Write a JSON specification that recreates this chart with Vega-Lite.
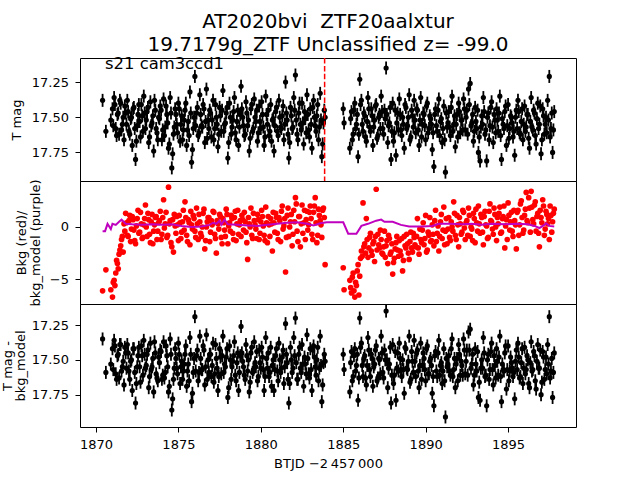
{
  "$schema": "https://vega.github.io/schema/vega-lite/v6.json",
  "autosize": {"type": "none"},
  "padding": {"left": 80, "top": 58, "right": 64, "bottom": 422},
  "bounds": "flush",
  "config": {
    "view": {"stroke": "black", "strokeWidth": 1},
    "font": "DejaVu Sans",
    "axis": {"labelFont": "DejaVu Sans", "labelFontSize": 13, "labelColor": "black", "tickColor": "black", "tickSize": 5, "tickWidth": 1, "domain": false, "grid": false, "titleFont": "DejaVu Sans", "titleFontSize": 13, "titleFontWeight": "normal", "titleColor": "black", "labelPadding": 6.5}
  },
  "title": {"text": ["AT2020bvi\u00a0 ZTF20aalxtur", "19.7179g_ZTF Unclassified z= -99.0"], "font": "DejaVu Sans", "fontSize": 20, "fontWeight": "normal", "color": "black", "lineHeight": 23, "anchor": "middle", "frame": "group", "baseline": "bottom", "offset": -19},
  "datasets": {
    "lc": [
      {"t":1870.4,"m":17.38,"c":17.35,"b":-6.1},{"t":1870.6,"m":17.60,"c":17.59,"b":-4.1},
      {"t":1870.9,"m":17.52,"c":17.53,"b":-6.0},{"t":1871.0,"m":17.44,"c":17.42,"b":-6.7},{"t":1871.05,"m":17.56,"c":17.57,"b":-5.3},{"t":1871.1,"m":17.36,"c":17.36,"b":-5.1},{"t":1871.15,"m":17.41,"c":17.40,"b":-5.6},{"t":1871.2,"m":17.58,"c":17.60,"b":-4.4},{"t":1871.25,"m":17.63,"c":17.64,"b":-3.2},{"t":1871.3,"m":17.48,"c":17.47,"b":-3.5},{"t":1871.35,"m":17.47,"c":17.46,"b":-4.0},{"t":1871.4,"m":17.62,"c":17.63,"b":-2.6},{"t":1871.45,"m":17.38,"c":17.39,"b":-2.2},{"t":1871.5,"m":17.40,"c":17.39,"b":-1.8},{"t":1871.55,"m":17.59,"c":17.58,"b":-1.2},{"t":1871.6,"m":17.55,"c":17.55,"b":-0.9},{"t":1871.65,"m":17.50,"c":17.51,"b":-2.4},{"t":1871.7,"m":17.66,"c":17.68,"b":0.3},{"t":1871.75,"m":17.42,"c":17.41,"b":-0.4},{"t":1871.8,"m":17.47,"c":17.45,"b":1.3},
      {"t":1871.9,"m":17.38,"c":17.39,"b":-0.8},{"t":1872.0,"m":17.60,"c":17.58,"b":0.6},{"t":1872.1,"m":17.51,"c":17.51,"b":-1.4},{"t":1872.2,"m":17.70,"c":17.72,"b":1.0},{"t":1872.3,"m":17.43,"c":17.42,"b":-0.3},{"t":1872.4,"m":17.80,"c":17.81,"b":-1.6},{"t":1872.5,"m":17.56,"c":17.55,"b":0.8},{"t":1872.6,"m":17.41,"c":17.41,"b":-0.6},{"t":1872.7,"m":17.64,"c":17.66,"b":1.4},{"t":1872.8,"m":17.49,"c":17.47,"b":-1.1},
      {"t":1872.9,"m":17.35,"c":17.36,"b":0.2},{"t":1873.0,"m":17.58,"c":17.56,"b":2.1},{"t":1873.1,"m":17.46,"c":17.46,"b":-0.9},{"t":1873.2,"m":17.68,"c":17.70,"b":0.7},{"t":1873.3,"m":17.39,"c":17.38,"b":-1.5},{"t":1873.4,"m":17.54,"c":17.55,"b":1.2},{"t":1873.5,"m":17.74,"c":17.73,"b":-0.4},{"t":1873.6,"m":17.45,"c":17.45,"b":0.9},{"t":1873.7,"m":17.61,"c":17.63,"b":-1.2},{"t":1873.8,"m":17.50,"c":17.48,"b":0.4},
      {"t":1873.9,"m":17.42,"c":17.43,"b":1.5},{"t":1874.0,"m":17.66,"c":17.64,"b":-0.7},{"t":1874.1,"m":17.37,"c":17.37,"b":2.6},{"t":1874.2,"m":17.57,"c":17.59,"b":0.3},{"t":1874.3,"m":17.48,"c":17.47,"b":-1.0},{"t":1874.4,"m":17.72,"c":17.73,"b":3.8},{"t":1874.5,"m":17.36,"c":17.35,"b":0.6},{"t":1874.6,"m":17.86,"c":17.86,"b":-1.9},{"t":1874.7,"m":17.62,"c":17.64,"b":-2.4},{"t":1874.8,"m":17.44,"c":17.42,"b":0.1},
      {"t":1874.9,"m":17.55,"c":17.56,"b":1.0},{"t":1875.0,"m":17.40,"c":17.38,"b":-1.3},{"t":1875.1,"m":17.67,"c":17.67,"b":0.4},{"t":1875.2,"m":17.49,"c":17.51,"b":-0.5},{"t":1875.3,"m":17.59,"c":17.58,"b":1.6},{"t":1875.4,"m":17.45,"c":17.46,"b":2.4},{"t":1875.5,"m":17.70,"c":17.69,"b":-0.8},{"t":1875.6,"m":17.53,"c":17.53,"b":0.7},{"t":1875.7,"m":17.32,"c":17.34,"b":-1.7},{"t":1875.8,"m":17.82,"c":17.80,"b":0.2},
      {"t":1875.9,"m":17.58,"c":17.59,"b":1.1},{"t":1876.0,"m":17.21,"c":17.19,"b":-0.4},{"t":1876.1,"m":17.47,"c":17.47,"b":1.8},{"t":1876.2,"m":17.63,"c":17.65,"b":-1.2},{"t":1876.3,"m":17.34,"c":17.33,"b":0.5},{"t":1876.4,"m":17.56,"c":17.57,"b":-0.9},{"t":1876.5,"m":17.41,"c":17.40,"b":1.3},{"t":1876.6,"m":17.68,"c":17.68,"b":-2.1},{"t":1876.7,"m":17.30,"c":17.32,"b":0.0},{"t":1876.8,"m":17.52,"c":17.50,"b":0.9},
      {"t":1876.9,"m":17.45,"c":17.46,"b":-1.4},{"t":1877.0,"m":17.64,"c":17.62,"b":0.6},{"t":1877.1,"m":17.38,"c":17.38,"b":1.5},{"t":1877.2,"m":17.58,"c":17.60,"b":-0.7},{"t":1877.3,"m":17.50,"c":17.49,"b":-2.5},{"t":1877.4,"m":17.71,"c":17.72,"b":0.3},{"t":1877.5,"m":17.43,"c":17.42,"b":1.2},{"t":1877.6,"m":17.60,"c":17.60,"b":-1.0},{"t":1877.7,"m":17.31,"c":17.33,"b":0.8},{"t":1877.8,"m":17.55,"c":17.53,"b":-0.3},
      {"t":1877.9,"m":17.47,"c":17.48,"b":1.7},{"t":1878.0,"m":17.79,"c":17.77,"b":-1.6},{"t":1878.1,"m":17.40,"c":17.40,"b":0.4},{"t":1878.2,"m":17.62,"c":17.64,"b":1.1},{"t":1878.3,"m":17.52,"c":17.51,"b":-0.6},{"t":1878.4,"m":17.36,"c":17.37,"b":0.9},{"t":1878.5,"m":17.66,"c":17.65,"b":-1.3},{"t":1878.6,"m":17.45,"c":17.45,"b":1.6},{"t":1878.7,"m":17.57,"c":17.59,"b":0.2},{"t":1878.8,"m":17.28,"c":17.26,"b":-0.9},
      {"t":1878.9,"m":17.50,"c":17.51,"b":0.7},{"t":1879.0,"m":17.63,"c":17.61,"b":1.4},{"t":1879.1,"m":17.39,"c":17.39,"b":-0.5},{"t":1879.2,"m":17.56,"c":17.58,"b":-3.1},{"t":1879.3,"m":17.74,"c":17.73,"b":0.3},{"t":1879.4,"m":17.44,"c":17.45,"b":1.8},{"t":1879.5,"m":17.60,"c":17.59,"b":-1.1},{"t":1879.6,"m":17.37,"c":17.37,"b":0.6},{"t":1879.7,"m":17.53,"c":17.55,"b":-0.2},{"t":1879.8,"m":17.67,"c":17.65,"b":1.2},
      {"t":1879.9,"m":17.42,"c":17.43,"b":-1.2},{"t":1880.0,"m":17.58,"c":17.56,"b":0.5},{"t":1880.1,"m":17.48,"c":17.48,"b":1.0},{"t":1880.2,"m":17.70,"c":17.72,"b":-0.8},{"t":1880.3,"m":17.35,"c":17.34,"b":1.9},{"t":1880.4,"m":17.55,"c":17.56,"b":-1.5},{"t":1880.5,"m":17.63,"c":17.62,"b":0.2},{"t":1880.6,"m":17.41,"c":17.41,"b":0.8},{"t":1880.7,"m":17.52,"c":17.54,"b":-2.3},{"t":1880.8,"m":17.74,"c":17.72,"b":0.4},
      {"t":1880.9,"m":17.46,"c":17.47,"b":1.3},{"t":1881.0,"m":17.60,"c":17.58,"b":-0.6},{"t":1881.1,"m":17.38,"c":17.38,"b":0.9},{"t":1881.2,"m":17.57,"c":17.59,"b":-1.4},{"t":1881.3,"m":17.49,"c":17.48,"b":2.0},{"t":1881.4,"m":17.66,"c":17.67,"b":0.1},{"t":1881.5,"m":17.25,"c":17.24,"b":-4.3},{"t":1881.6,"m":17.52,"c":17.52,"b":1.1},{"t":1881.7,"m":17.79,"c":17.81,"b":-0.9},{"t":1881.8,"m":17.43,"c":17.41,"b":0.5},
      {"t":1881.9,"m":17.58,"c":17.59,"b":-1.8},{"t":1882.0,"m":17.36,"c":17.34,"b":1.6},{"t":1882.1,"m":17.20,"c":17.20,"b":2.8},{"t":1882.2,"m":17.62,"c":17.64,"b":-0.4},{"t":1882.3,"m":17.47,"c":17.46,"b":1.0},{"t":1882.4,"m":17.55,"c":17.56,"b":-1.9},{"t":1882.5,"m":17.40,"c":17.39,"b":2.1},{"t":1882.6,"m":17.69,"c":17.69,"b":0.4},{"t":1882.7,"m":17.51,"c":17.53,"b":-1.2},{"t":1882.8,"m":17.34,"c":17.32,"b":1.5},
      {"t":1882.9,"m":17.59,"c":17.60,"b":0.2},{"t":1883.0,"m":17.44,"c":17.42,"b":2.0},{"t":1883.1,"m":17.72,"c":17.72,"b":-0.7},{"t":1883.2,"m":17.38,"c":17.40,"b":1.4},{"t":1883.3,"m":17.56,"c":17.55,"b":2.8},{"t":1883.4,"m":17.49,"c":17.50,"b":-1.5},{"t":1883.5,"m":17.66,"c":17.65,"b":1.7},{"t":1883.6,"m":17.33,"c":17.33,"b":0.6},{"t":1883.7,"m":17.78,"c":17.80,"b":-1.0},{"t":1883.8,"m":17.54,"c":17.52,"b":1.8},
      {"t":1883.9,"m":17.50,"c":17.51,"b":-3.6},
      {"t":1885.0,"m":17.44,"c":17.46,"b":-3.9},{"t":1885.05,"m":17.54,"c":17.57,"b":-6.0},
      {"t":1885.4,"m":17.72,"c":17.73,"b":-5.1},{"t":1885.5,"m":17.46,"c":17.44,"b":-6.3},{"t":1885.6,"m":17.62,"c":17.62,"b":-4.4},{"t":1885.7,"m":17.40,"c":17.42,"b":-6.7},{"t":1885.8,"m":17.55,"c":17.54,"b":-5.6},{"t":1885.9,"m":17.78,"c":17.79,"b":-3.6},{"t":1886.0,"m":17.23,"c":17.20,"b":-4.7},{"t":1886.1,"m":17.38,"c":17.38,"b":-2.3},{"t":1886.2,"m":17.60,"c":17.62,"b":2.3},{"t":1886.3,"m":17.49,"c":17.47,"b":-1.6},
      {"t":1886.4,"m":17.67,"c":17.68,"b":0.8},{"t":1886.5,"m":17.36,"c":17.34,"b":-2.9},{"t":1886.6,"m":17.57,"c":17.57,"b":-1.0},{"t":1886.7,"m":17.44,"c":17.46,"b":-2.3},{"t":1886.8,"m":17.70,"c":17.69,"b":-1.6},{"t":1886.9,"m":17.52,"c":17.53,"b":-3.3},{"t":1887.0,"m":17.41,"c":17.40,"b":3.6},{"t":1887.1,"m":17.63,"c":17.63,"b":-0.7},{"t":1887.2,"m":17.48,"c":17.50,"b":-2.0},{"t":1887.3,"m":17.35,"c":17.33,"b":-1.2},
      {"t":1887.4,"m":17.58,"c":17.59,"b":-2.6},{"t":1887.5,"m":17.45,"c":17.43,"b":-0.4},{"t":1887.6,"m":17.15,"c":17.15,"b":-1.8},{"t":1887.7,"m":17.68,"c":17.70,"b":-3.5},{"t":1887.8,"m":17.54,"c":17.53,"b":-1.1},{"t":1887.9,"m":17.80,"c":17.81,"b":-2.4},{"t":1888.0,"m":17.40,"c":17.39,"b":-4.5},{"t":1888.1,"m":17.61,"c":17.61,"b":-3.0},{"t":1888.2,"m":17.77,"c":17.79,"b":-1.5},{"t":1888.3,"m":17.47,"c":17.45,"b":-2.2},
      {"t":1888.4,"m":17.37,"c":17.38,"b":-1.3},{"t":1888.5,"m":17.59,"c":17.57,"b":-2.7},{"t":1888.6,"m":17.50,"c":17.50,"b":-4.2},{"t":1888.7,"m":17.72,"c":17.74,"b":-0.9},{"t":1888.8,"m":17.43,"c":17.42,"b":-2.0},{"t":1888.9,"m":17.56,"c":17.57,"b":-1.6},{"t":1889.0,"m":17.34,"c":17.33,"b":-3.1},{"t":1889.1,"m":17.64,"c":17.64,"b":-0.5},{"t":1889.2,"m":17.49,"c":17.51,"b":-2.4},{"t":1889.3,"m":17.38,"c":17.36,"b":-1.0},
      {"t":1889.4,"m":17.61,"c":17.62,"b":-1.9},{"t":1889.5,"m":17.45,"c":17.43,"b":0.8},{"t":1889.6,"m":17.70,"c":17.70,"b":-2.6},{"t":1889.7,"m":17.36,"c":17.38,"b":-1.2},{"t":1889.8,"m":17.55,"c":17.54,"b":-0.3},{"t":1889.9,"m":17.48,"c":17.49,"b":-1.7},{"t":1890.0,"m":17.66,"c":17.65,"b":1.1},{"t":1890.1,"m":17.40,"c":17.40,"b":-2.2},{"t":1890.2,"m":17.58,"c":17.60,"b":-0.8},{"t":1890.3,"m":17.51,"c":17.49,"b":-1.4},
      {"t":1890.4,"m":17.73,"c":17.74,"b":0.2},{"t":1890.5,"m":17.85,"c":17.83,"b":-1.8},{"t":1890.6,"m":17.44,"c":17.44,"b":1.6},{"t":1890.7,"m":17.60,"c":17.62,"b":-0.6},{"t":1890.8,"m":17.37,"c":17.36,"b":-2.3},{"t":1890.9,"m":17.53,"c":17.54,"b":0.5},{"t":1891.0,"m":17.68,"c":17.67,"b":-1.1},{"t":1891.1,"m":17.42,"c":17.42,"b":1.9},{"t":1891.2,"m":17.89,"c":17.91,"b":-0.4},{"t":1891.3,"m":17.57,"c":17.55,"b":-1.6},
      {"t":1891.4,"m":17.46,"c":17.47,"b":0.9},{"t":1891.5,"m":17.63,"c":17.61,"b":-1.3},{"t":1891.6,"m":17.35,"c":17.35,"b":0.0},{"t":1891.7,"m":17.55,"c":17.57,"b":2.4},{"t":1891.8,"m":17.71,"c":17.70,"b":-0.8},{"t":1891.9,"m":17.48,"c":17.49,"b":1.1},{"t":1892.0,"m":17.40,"c":17.39,"b":-1.9},{"t":1892.1,"m":17.61,"c":17.61,"b":0.3},{"t":1892.2,"m":17.52,"c":17.54,"b":-0.5},{"t":1892.3,"m":17.37,"c":17.35,"b":1.4},
      {"t":1892.4,"m":17.59,"c":17.60,"b":-1.2},{"t":1892.5,"m":17.45,"c":17.43,"b":0.6},{"t":1892.6,"m":17.30,"c":17.30,"b":1.8},{"t":1892.7,"m":17.26,"c":17.28,"b":-0.9},{"t":1892.8,"m":17.54,"c":17.53,"b":-0.2},{"t":1892.9,"m":17.67,"c":17.68,"b":1.3},{"t":1893.0,"m":17.43,"c":17.42,"b":-1.5},{"t":1893.1,"m":17.58,"c":17.58,"b":0.4},{"t":1893.2,"m":17.75,"c":17.77,"b":2.0},{"t":1893.3,"m":17.81,"c":17.79,"b":-0.6},
      {"t":1893.4,"m":17.49,"c":17.50,"b":0.9},{"t":1893.5,"m":17.36,"c":17.34,"b":-1.7},{"t":1893.6,"m":17.62,"c":17.62,"b":1.5},{"t":1893.7,"m":17.81,"c":17.83,"b":0.1},{"t":1893.8,"m":17.47,"c":17.46,"b":-1.0},{"t":1893.9,"m":17.56,"c":17.57,"b":2.2},{"t":1894.0,"m":17.39,"c":17.38,"b":0.5},{"t":1894.1,"m":17.68,"c":17.68,"b":-0.7},{"t":1894.2,"m":17.52,"c":17.54,"b":1.2},{"t":1894.3,"m":17.44,"c":17.42,"b":-1.3},
      {"t":1894.4,"m":17.60,"c":17.61,"b":0.3},{"t":1894.5,"m":17.35,"c":17.33,"b":1.9},{"t":1894.6,"m":17.80,"c":17.80,"b":-0.5},{"t":1894.7,"m":17.55,"c":17.57,"b":1.0},{"t":1894.8,"m":17.46,"c":17.45,"b":-2.0},{"t":1894.9,"m":17.70,"c":17.71,"b":0.7},{"t":1895.0,"m":17.41,"c":17.40,"b":2.3},{"t":1895.1,"m":17.58,"c":17.58,"b":-0.3},{"t":1895.2,"m":17.50,"c":17.52,"b":1.4},{"t":1895.3,"m":17.64,"c":17.62,"b":-0.9},
      {"t":1895.4,"m":17.77,"c":17.78,"b":0.6},{"t":1895.5,"m":17.45,"c":17.43,"b":-2.1},{"t":1895.6,"m":17.38,"c":17.38,"b":1.6},{"t":1895.7,"m":17.61,"c":17.63,"b":0.2},{"t":1895.8,"m":17.53,"c":17.52,"b":2.5},{"t":1895.9,"m":17.66,"c":17.67,"b":-0.6},{"t":1896.0,"m":17.42,"c":17.41,"b":1.1},{"t":1896.1,"m":17.57,"c":17.57,"b":3.3},{"t":1896.2,"m":17.48,"c":17.50,"b":0.4},{"t":1896.3,"m":17.72,"c":17.70,"b":1.8},
      {"t":1896.4,"m":17.36,"c":17.37,"b":3.4},{"t":1896.5,"m":17.59,"c":17.57,"b":0.7},{"t":1896.6,"m":17.47,"c":17.47,"b":2.1},{"t":1896.7,"m":17.69,"c":17.71,"b":-0.4},{"t":1896.8,"m":17.40,"c":17.39,"b":1.3},{"t":1896.9,"m":17.55,"c":17.56,"b":-1.9},{"t":1897.0,"m":17.76,"c":17.75,"b":0.9},{"t":1897.1,"m":17.44,"c":17.44,"b":2.6},{"t":1897.2,"m":17.62,"c":17.64,"b":-0.8},{"t":1897.3,"m":17.50,"c":17.48,"b":1.5},
      {"t":1897.4,"m":17.38,"c":17.39,"b":0.3},{"t":1897.5,"m":17.21,"c":17.19,"b":-1.2},{"t":1897.6,"m":17.58,"c":17.58,"b":1.1},{"t":1897.7,"m":17.75,"c":17.77,"b":0.5},{"t":1897.8,"m":17.46,"c":17.45,"b":1.7},
      {"t":1871.85,"m":17.55,"c":17.56,"b":0.4},{"t":1871.95,"m":17.46,"c":17.45,"b":-0.9},{"t":1872.05,"m":17.62,"c":17.64,"b":1.1},{"t":1872.15,"m":17.50,"c":17.50,"b":-0.2},{"t":1872.25,"m":17.44,"c":17.42,"b":0.7},{"t":1872.35,"m":17.58,"c":17.59,"b":-1.3},{"t":1872.45,"m":17.67,"c":17.67,"b":0.1},{"t":1872.55,"m":17.48,"c":17.47,"b":1.6},{"t":1872.65,"m":17.53,"c":17.55,"b":-0.5},{"t":1872.75,"m":17.41,"c":17.40,"b":0.3},
      {"t":1872.85,"m":17.60,"c":17.61,"b":-1.0},{"t":1872.95,"m":17.47,"c":17.46,"b":0.8},{"t":1873.05,"m":17.52,"c":17.54,"b":0.0},{"t":1873.15,"m":17.43,"c":17.43,"b":1.3},{"t":1873.25,"m":17.64,"c":17.62,"b":-0.7},{"t":1873.35,"m":17.56,"c":17.57,"b":0.5},{"t":1873.45,"m":17.49,"c":17.49,"b":-1.6},{"t":1873.55,"m":17.38,"c":17.37,"b":0.2},{"t":1873.65,"m":17.58,"c":17.60,"b":1.0},{"t":1873.75,"m":17.66,"c":17.65,"b":-0.4},
      {"t":1873.85,"m":17.51,"c":17.52,"b":0.6},{"t":1873.95,"m":17.45,"c":17.44,"b":-1.2},{"t":1874.05,"m":17.59,"c":17.61,"b":0.9},{"t":1874.15,"m":17.63,"c":17.63,"b":-0.1},{"t":1874.25,"m":17.42,"c":17.40,"b":1.4},{"t":1874.35,"m":17.54,"c":17.55,"b":-0.8},{"t":1874.45,"m":17.69,"c":17.69,"b":0.3},{"t":1874.55,"m":17.47,"c":17.46,"b":-1.5},{"t":1874.65,"m":17.76,"c":17.78,"b":0.7},{"t":1874.75,"m":17.57,"c":17.56,"b":1.2},
      {"t":1874.85,"m":17.48,"c":17.49,"b":-0.6},{"t":1874.95,"m":17.61,"c":17.60,"b":0.2},{"t":1875.05,"m":17.44,"c":17.46,"b":1.1},{"t":1875.15,"m":17.55,"c":17.55,"b":-1.1},{"t":1875.25,"m":17.66,"c":17.64,"b":0.5},{"t":1875.35,"m":17.52,"c":17.53,"b":-0.3},{"t":1875.45,"m":17.40,"c":17.40,"b":0.9},{"t":1875.55,"m":17.59,"c":17.58,"b":-1.4},{"t":1875.65,"m":17.63,"c":17.65,"b":0.4},{"t":1875.75,"m":17.47,"c":17.46,"b":1.5},
      {"t":1875.85,"m":17.73,"c":17.74,"b":-0.2},{"t":1875.95,"m":17.50,"c":17.49,"b":0.8},{"t":1876.05,"m":17.56,"c":17.58,"b":-1.0},{"t":1876.15,"m":17.43,"c":17.43,"b":0.3},{"t":1876.25,"m":17.61,"c":17.59,"b":1.2},{"t":1876.35,"m":17.48,"c":17.49,"b":-0.6},{"t":1876.45,"m":17.57,"c":17.57,"b":0.0},{"t":1876.55,"m":17.44,"c":17.43,"b":1.7},{"t":1876.65,"m":17.53,"c":17.55,"b":-1.3},{"t":1876.75,"m":17.65,"c":17.64,"b":0.5},
      {"t":1876.85,"m":17.58,"c":17.59,"b":0.9},{"t":1876.95,"m":17.47,"c":17.46,"b":-0.5},{"t":1877.05,"m":17.52,"c":17.54,"b":0.2},{"t":1877.15,"m":17.66,"c":17.66,"b":1.4},{"t":1877.25,"m":17.41,"c":17.39,"b":-1.1},{"t":1877.35,"m":17.55,"c":17.56,"b":0.6},{"t":1877.45,"m":17.62,"c":17.62,"b":-0.2},{"t":1877.55,"m":17.49,"c":17.48,"b":1.0},{"t":1877.65,"m":17.45,"c":17.47,"b":-1.6},{"t":1877.75,"m":17.60,"c":17.59,"b":0.4},
      {"t":1877.85,"m":17.54,"c":17.55,"b":-0.9},{"t":1877.95,"m":17.43,"c":17.42,"b":1.2},{"t":1878.05,"m":17.68,"c":17.70,"b":0.1},{"t":1878.15,"m":17.50,"c":17.50,"b":-0.4},{"t":1878.25,"m":17.57,"c":17.55,"b":0.8},{"t":1878.35,"m":17.46,"c":17.47,"b":-1.2},{"t":1878.45,"m":17.61,"c":17.61,"b":1.5},{"t":1878.55,"m":17.53,"c":17.52,"b":0.3},{"t":1878.65,"m":17.70,"c":17.72,"b":-0.7},{"t":1878.75,"m":17.48,"c":17.47,"b":0.6},
      {"t":1878.85,"m":17.44,"c":17.45,"b":1.1},{"t":1878.95,"m":17.56,"c":17.55,"b":-0.3},{"t":1879.05,"m":17.62,"c":17.64,"b":0.5},{"t":1879.15,"m":17.47,"c":17.47,"b":-1.5},{"t":1879.25,"m":17.52,"c":17.50,"b":0.9},{"t":1879.35,"m":17.65,"c":17.66,"b":0.0},{"t":1879.45,"m":17.41,"c":17.41,"b":-0.8},{"t":1879.55,"m":17.58,"c":17.57,"b":1.3},{"t":1879.65,"m":17.50,"c":17.52,"b":0.2},{"t":1879.75,"m":17.45,"c":17.44,"b":-1.1},
      {"t":1879.85,"m":17.61,"c":17.62,"b":0.7},{"t":1879.95,"m":17.53,"c":17.52,"b":-0.6},{"t":1880.05,"m":17.39,"c":17.41,"b":1.6},{"t":1880.15,"m":17.57,"c":17.57,"b":0.1},{"t":1880.25,"m":17.64,"c":17.62,"b":-1.3},{"t":1880.35,"m":17.48,"c":17.49,"b":0.4},{"t":1880.45,"m":17.45,"c":17.45,"b":1.0},{"t":1880.55,"m":17.60,"c":17.59,"b":-0.9},{"t":1880.65,"m":17.67,"c":17.69,"b":0.3},{"t":1880.75,"m":17.51,"c":17.50,"b":1.4},
      {"t":1880.85,"m":17.56,"c":17.57,"b":-0.5},{"t":1880.95,"m":17.43,"c":17.42,"b":0.9},{"t":1881.05,"m":17.63,"c":17.65,"b":-1.2},{"t":1881.15,"m":17.50,"c":17.50,"b":0.6},{"t":1881.25,"m":17.58,"c":17.56,"b":1.5},{"t":1881.35,"m":17.42,"c":17.43,"b":-0.2},{"t":1881.45,"m":17.55,"c":17.55,"b":0.8},{"t":1881.55,"m":17.47,"c":17.46,"b":-1.0},{"t":1881.65,"m":17.62,"c":17.64,"b":1.8},{"t":1881.75,"m":17.68,"c":17.67,"b":0.0},
      {"t":1881.85,"m":17.49,"c":17.50,"b":1.2},{"t":1881.95,"m":17.57,"c":17.56,"b":-0.7},{"t":1882.05,"m":17.45,"c":17.47,"b":0.5},{"t":1882.15,"m":17.52,"c":17.52,"b":2.2},{"t":1882.25,"m":17.66,"c":17.64,"b":-1.4},{"t":1882.35,"m":17.40,"c":17.41,"b":1.0},{"t":1882.45,"m":17.59,"c":17.59,"b":0.3},{"t":1882.55,"m":17.54,"c":17.53,"b":-0.6},{"t":1882.65,"m":17.46,"c":17.48,"b":1.6},{"t":1882.75,"m":17.61,"c":17.60,"b":0.7},
      {"t":1882.85,"m":17.48,"c":17.49,"b":-0.3},{"t":1882.95,"m":17.64,"c":17.63,"b":1.4},{"t":1883.05,"m":17.55,"c":17.57,"b":0.8},{"t":1883.15,"m":17.43,"c":17.43,"b":-1.2},{"t":1883.25,"m":17.50,"c":17.48,"b":2.0},{"t":1883.35,"m":17.60,"c":17.61,"b":0.4},{"t":1883.45,"m":17.41,"c":17.41,"b":-0.8},{"t":1883.55,"m":17.57,"c":17.56,"b":1.1},{"t":1883.65,"m":17.52,"c":17.54,"b":0.2},{"t":1883.75,"m":17.69,"c":17.68,"b":1.6},
      {"t":1883.85,"m":17.45,"c":17.46,"b":0.9},
      {"t":1885.45,"m":17.51,"c":17.52,"b":-5.8},{"t":1885.55,"m":17.66,"c":17.65,"b":-4.8},{"t":1885.65,"m":17.45,"c":17.47,"b":-6.1},{"t":1885.75,"m":17.58,"c":17.58,"b":-5.3},{"t":1885.85,"m":17.48,"c":17.46,"b":-4.2},{"t":1885.95,"m":17.62,"c":17.63,"b":-6.5},{"t":1886.05,"m":17.41,"c":17.41,"b":-3.0},{"t":1886.15,"m":17.55,"c":17.54,"b":-2.8},{"t":1886.25,"m":17.47,"c":17.49,"b":-1.9},{"t":1886.35,"m":17.64,"c":17.63,"b":-2.5},
      {"t":1886.45,"m":17.53,"c":17.54,"b":-1.2},{"t":1886.55,"m":17.44,"c":17.43,"b":-2.0},{"t":1886.65,"m":17.60,"c":17.62,"b":-0.6},{"t":1886.75,"m":17.49,"c":17.49,"b":-2.7},{"t":1886.85,"m":17.57,"c":17.55,"b":-1.4},{"t":1886.95,"m":17.42,"c":17.43,"b":-0.9},{"t":1887.05,"m":17.65,"c":17.65,"b":-2.2},{"t":1887.15,"m":17.50,"c":17.49,"b":-1.7},{"t":1887.25,"m":17.58,"c":17.60,"b":-0.3},{"t":1887.35,"m":17.46,"c":17.45,"b":-2.5},
      {"t":1887.45,"m":17.62,"c":17.63,"b":-1.9},{"t":1887.55,"m":17.51,"c":17.50,"b":-2.9},{"t":1887.65,"m":17.48,"c":17.50,"b":-1.3},{"t":1887.75,"m":17.56,"c":17.56,"b":-0.8},{"t":1887.85,"m":17.43,"c":17.41,"b":-2.6},{"t":1887.95,"m":17.60,"c":17.61,"b":-1.6},{"t":1888.05,"m":17.67,"c":17.67,"b":-3.4},{"t":1888.15,"m":17.45,"c":17.44,"b":-2.1},{"t":1888.25,"m":17.54,"c":17.56,"b":-0.9},{"t":1888.35,"m":17.59,"c":17.58,"b":-2.8},
      {"t":1888.45,"m":17.48,"c":17.49,"b":-2.3},{"t":1888.55,"m":17.63,"c":17.62,"b":-1.1},{"t":1888.65,"m":17.55,"c":17.57,"b":-3.2},{"t":1888.75,"m":17.41,"c":17.41,"b":-1.8},{"t":1888.85,"m":17.58,"c":17.56,"b":-0.7},{"t":1888.95,"m":17.50,"c":17.51,"b":-2.5},{"t":1889.05,"m":17.66,"c":17.66,"b":-1.4},{"t":1889.15,"m":17.45,"c":17.44,"b":-2.0},{"t":1889.25,"m":17.57,"c":17.59,"b":-0.6},{"t":1889.35,"m":17.52,"c":17.51,"b":-1.7},
      {"t":1889.45,"m":17.44,"c":17.45,"b":-0.9},{"t":1889.55,"m":17.59,"c":17.58,"b":-2.0},{"t":1889.65,"m":17.52,"c":17.54,"b":-0.2},{"t":1889.75,"m":17.64,"c":17.64,"b":-1.5},{"t":1889.85,"m":17.47,"c":17.45,"b":0.4},{"t":1889.95,"m":17.56,"c":17.57,"b":-1.1},{"t":1890.05,"m":17.42,"c":17.42,"b":-2.4},{"t":1890.15,"m":17.61,"c":17.60,"b":-0.5},{"t":1890.25,"m":17.49,"c":17.51,"b":0.9},{"t":1890.35,"m":17.55,"c":17.54,"b":-1.3},
      {"t":1890.45,"m":17.61,"c":17.62,"b":-0.7},{"t":1890.55,"m":17.48,"c":17.47,"b":0.6},{"t":1890.65,"m":17.56,"c":17.58,"b":-1.4},{"t":1890.75,"m":17.45,"c":17.45,"b":0.1},{"t":1890.85,"m":17.63,"c":17.61,"b":-0.9},{"t":1890.95,"m":17.51,"c":17.52,"b":1.2},{"t":1891.05,"m":17.58,"c":17.58,"b":-0.3},{"t":1891.15,"m":17.66,"c":17.65,"b":-1.7},{"t":1891.25,"m":17.47,"c":17.49,"b":0.8},{"t":1891.35,"m":17.54,"c":17.53,"b":-0.2},
      {"t":1891.45,"m":17.57,"c":17.58,"b":-1.0},{"t":1891.55,"m":17.43,"c":17.42,"b":0.5},{"t":1891.65,"m":17.60,"c":17.62,"b":-0.4},{"t":1891.75,"m":17.49,"c":17.49,"b":1.3},{"t":1891.85,"m":17.55,"c":17.53,"b":-1.2},{"t":1891.95,"m":17.64,"c":17.65,"b":0.2},{"t":1892.05,"m":17.46,"c":17.46,"b":0.9},{"t":1892.15,"m":17.52,"c":17.51,"b":-0.7},{"t":1892.25,"m":17.59,"c":17.61,"b":1.6},{"t":1892.35,"m":17.44,"c":17.43,"b":-0.1},
      {"t":1892.45,"m":17.50,"c":17.51,"b":0.4},{"t":1892.55,"m":17.62,"c":17.61,"b":-0.8},{"t":1892.65,"m":17.41,"c":17.43,"b":1.1},{"t":1892.75,"m":17.56,"c":17.56,"b":0.0},{"t":1892.85,"m":17.48,"c":17.46,"b":-1.3},{"t":1892.95,"m":17.60,"c":17.61,"b":0.8},{"t":1893.05,"m":17.53,"c":17.53,"b":1.7},{"t":1893.15,"m":17.45,"c":17.44,"b":-0.4},{"t":1893.25,"m":17.64,"c":17.66,"b":0.3},{"t":1893.35,"m":17.57,"c":17.56,"b":1.2},
      {"t":1893.45,"m":17.55,"c":17.56,"b":-0.5},{"t":1893.55,"m":17.46,"c":17.45,"b":1.0},{"t":1893.65,"m":17.59,"c":17.61,"b":0.2},{"t":1893.75,"m":17.50,"c":17.50,"b":-1.1},{"t":1893.85,"m":17.66,"c":17.64,"b":1.5},{"t":1893.95,"m":17.43,"c":17.44,"b":0.6},{"t":1894.05,"m":17.57,"c":17.57,"b":-0.2},{"t":1894.15,"m":17.48,"c":17.47,"b":1.8},{"t":1894.25,"m":17.61,"c":17.63,"b":0.0},{"t":1894.35,"m":17.52,"c":17.51,"b":0.9},
      {"t":1894.45,"m":17.47,"c":17.48,"b":1.3},{"t":1894.55,"m":17.63,"c":17.62,"b":-0.6},{"t":1894.65,"m":17.51,"c":17.53,"b":0.8},{"t":1894.75,"m":17.58,"c":17.58,"b":2.0},{"t":1894.85,"m":17.42,"c":17.40,"b":0.1},{"t":1894.95,"m":17.56,"c":17.57,"b":-1.2},{"t":1895.05,"m":17.65,"c":17.65,"b":1.1},{"t":1895.15,"m":17.49,"c":17.48,"b":0.5},{"t":1895.25,"m":17.54,"c":17.56,"b":-0.4},{"t":1895.35,"m":17.60,"c":17.59,"b":1.6},
      {"t":1895.45,"m":17.50,"c":17.51,"b":0.2},{"t":1895.55,"m":17.58,"c":17.57,"b":1.4},{"t":1895.65,"m":17.46,"c":17.48,"b":-0.8},{"t":1895.75,"m":17.62,"c":17.62,"b":2.2},{"t":1895.85,"m":17.44,"c":17.42,"b":0.9},{"t":1895.95,"m":17.55,"c":17.56,"b":-0.3},{"t":1896.05,"m":17.60,"c":17.60,"b":1.7},{"t":1896.15,"m":17.48,"c":17.47,"b":0.6},{"t":1896.25,"m":17.65,"c":17.67,"b":2.8},{"t":1896.35,"m":17.53,"c":17.52,"b":-0.5},
      {"t":1896.45,"m":17.57,"c":17.58,"b":1.9},{"t":1896.55,"m":17.45,"c":17.44,"b":0.3},{"t":1896.65,"m":17.63,"c":17.65,"b":2.4},{"t":1896.75,"m":17.51,"c":17.51,"b":1.0},{"t":1896.85,"m":17.58,"c":17.56,"b":-0.6},{"t":1896.95,"m":17.42,"c":17.43,"b":1.6},{"t":1897.05,"m":17.66,"c":17.66,"b":0.4},{"t":1897.15,"m":17.49,"c":17.48,"b":2.0},{"t":1897.25,"m":17.55,"c":17.57,"b":-0.2},{"t":1897.35,"m":17.61,"c":17.60,"b":1.2},
      {"t":1897.45,"m":17.52,"c":17.53,"b":0.8},{"t":1897.55,"m":17.64,"c":17.63,"b":2.0},{"t":1897.65,"m":17.47,"c":17.49,"b":-0.5},{"t":1897.75,"m":17.59,"c":17.59,"b":1.3}
    ],
    "bm": [
      {"t":1870.4,"bm":-0.4},{"t":1870.55,"bm":-0.4},{"t":1870.7,"bm":0.3},{"t":1870.9,"bm":-0.2},{"t":1871.0,"bm":0.3},{"t":1871.2,"bm":0.2},{"t":1871.4,"bm":0.5},{"t":1871.55,"bm":0.7},{"t":1871.8,"bm":0.3},{"t":1872.2,"bm":0.25},{"t":1872.8,"bm":0.2},{"t":1873.4,"bm":0.25},{"t":1874.0,"bm":0.2},{"t":1874.6,"bm":0.25},{"t":1875.2,"bm":0.1},{"t":1875.8,"bm":0.0},{"t":1876.4,"bm":0.05},{"t":1876.9,"bm":0.2},{"t":1877.1,"bm":0.4},{"t":1877.3,"bm":0.3},{"t":1877.5,"bm":0.6},{"t":1877.6,"bm":0.2},{"t":1877.8,"bm":0.7},{"t":1878.0,"bm":0.25},{"t":1878.6,"bm":0.2},{"t":1879.2,"bm":0.15},{"t":1879.8,"bm":0.1},{"t":1880.4,"bm":0.2},{"t":1881.0,"bm":0.3},{"t":1881.6,"bm":0.4},{"t":1882.2,"bm":0.45},{"t":1882.8,"bm":0.3},{"t":1883.2,"bm":0.15},{"t":1883.6,"bm":0.35},{"t":1884.0,"bm":0.45},{"t":1885.0,"bm":0.45},{"t":1885.3,"bm":-0.65},{"t":1885.8,"bm":-0.65},{"t":1886.1,"bm":0.1},{"t":1886.5,"bm":0.3},{"t":1887.0,"bm":0.6},{"t":1887.3,"bm":0.7},{"t":1887.5,"bm":0.5},{"t":1888.0,"bm":0.5},{"t":1888.5,"bm":0.2},{"t":1889.0,"bm":0.05},{"t":1889.8,"bm":0.05},{"t":1890.4,"bm":0.1},{"t":1890.8,"bm":0.3},{"t":1891.5,"bm":0.3},{"t":1892.2,"bm":0.25},{"t":1892.8,"bm":0.3},{"t":1893.4,"bm":0.2},{"t":1894.0,"bm":0.3},{"t":1894.8,"bm":0.25},{"t":1895.5,"bm":0.3},{"t":1896.2,"bm":0.25},{"t":1896.6,"bm":0.1},{"t":1896.9,"bm":-0.1},{"t":1897.2,"bm":0.2},{"t":1897.3,"bm":0.35},{"t":1897.5,"bm":0.1},{"t":1897.8,"bm":0.05}
    ],
    "mark": [{"t":1883.87}],
    "label": [{"t":1870.55,"m":17.16,"label":"s21 cam3ccd1"}]
  },
  "spacing": 0,
  "vconcat": [
    {
      "width": 496, "height": 123,
      "encoding": {"x": {"field": "t", "type": "quantitative", "scale": {"domain": [1869.03, 1899.12], "nice": false, "zero": false}, "axis": null}},
      "layer": [
        {"data": {"name": "lc"}, "mark": {"type": "tick", "orient": "vertical", "size": 13, "thickness": 1.8, "color": "black", "opacity": 1},
         "encoding": {"y": {"field": "m", "type": "quantitative", "scale": {"domain": [17.079, 17.953], "reverse": true, "nice": false, "zero": false},
           "axis": {"values": [17.25, 17.5, 17.75], "format": ".2f", "title": "T mag", "titleX": -56.5, "titleY": 61.5, "titleAngle": 270, "titleAlign": "center", "titleBaseline": "bottom"}}}},
        {"data": {"name": "lc"}, "mark": {"type": "circle", "size": 27, "color": "black", "opacity": 1},
         "encoding": {"y": {"field": "m", "type": "quantitative"}}},
        {"data": {"name": "mark"}, "mark": {"type": "rule", "color": "red", "strokeDash": [5.5, 2.4], "strokeWidth": 1.5}, "encoding": {}},
        {"data": {"name": "label"}, "mark": {"type": "text", "align": "left", "baseline": "alphabetic", "fontSize": 16.4, "font": "DejaVu Sans", "color": "black"},
         "encoding": {"y": {"field": "m", "type": "quantitative"}, "text": {"field": "label"}}}
      ]
    },
    {
      "width": 496, "height": 123,
      "encoding": {"x": {"field": "t", "type": "quantitative", "scale": {"domain": [1869.03, 1899.12], "nice": false, "zero": false}, "axis": null}},
      "layer": [
        {"data": {"name": "lc"}, "mark": {"type": "circle", "size": 32, "color": "#ff0000", "opacity": 1},
         "encoding": {"y": {"field": "b", "type": "quantitative", "scale": {"domain": [-7.36, 4.39], "nice": false, "zero": false},
           "axis": {"values": [-5, 0], "title": ["Bkg (red)/", "bkg_model (purple)"], "titleLineHeight": 14, "titleX": -52, "titleY": 61.5, "titleAngle": 270, "titleAlign": "center", "titleBaseline": "bottom"}}}},
        {"data": {"name": "bm"}, "mark": {"type": "line", "color": "#bf00bf", "strokeWidth": 2},
         "encoding": {"y": {"field": "bm", "type": "quantitative"}}}
      ]
    },
    {
      "width": 496, "height": 123,
      "encoding": {"x": {"field": "t", "type": "quantitative", "scale": {"domain": [1869.03, 1899.12], "nice": false, "zero": false},
        "axis": {"values": [1870, 1875, 1880, 1885, 1890, 1895], "format": "d", "labelBaseline": "alphabetic", "labelPadding": 16, "title": "BTJD \u22122\u2009457\u2009000", "titleY": 40, "titleBaseline": "alphabetic"}}},
      "layer": [
        {"data": {"name": "lc"}, "mark": {"type": "tick", "orient": "vertical", "size": 13, "thickness": 1.8, "color": "black", "opacity": 1},
         "encoding": {"y": {"field": "c", "type": "quantitative", "scale": {"domain": [17.099, 17.982], "reverse": true, "nice": false, "zero": false},
           "axis": {"values": [17.25, 17.5, 17.75], "format": ".2f", "title": ["T mag -", "bkg_model"], "titleLineHeight": 13, "titleX": -66, "titleY": 61.5, "titleAngle": 270, "titleAlign": "center", "titleBaseline": "bottom"}}}},
        {"data": {"name": "lc"}, "mark": {"type": "circle", "size": 27, "color": "black", "opacity": 1},
         "encoding": {"y": {"field": "c", "type": "quantitative"}}}
      ]
    }
  ]
}
